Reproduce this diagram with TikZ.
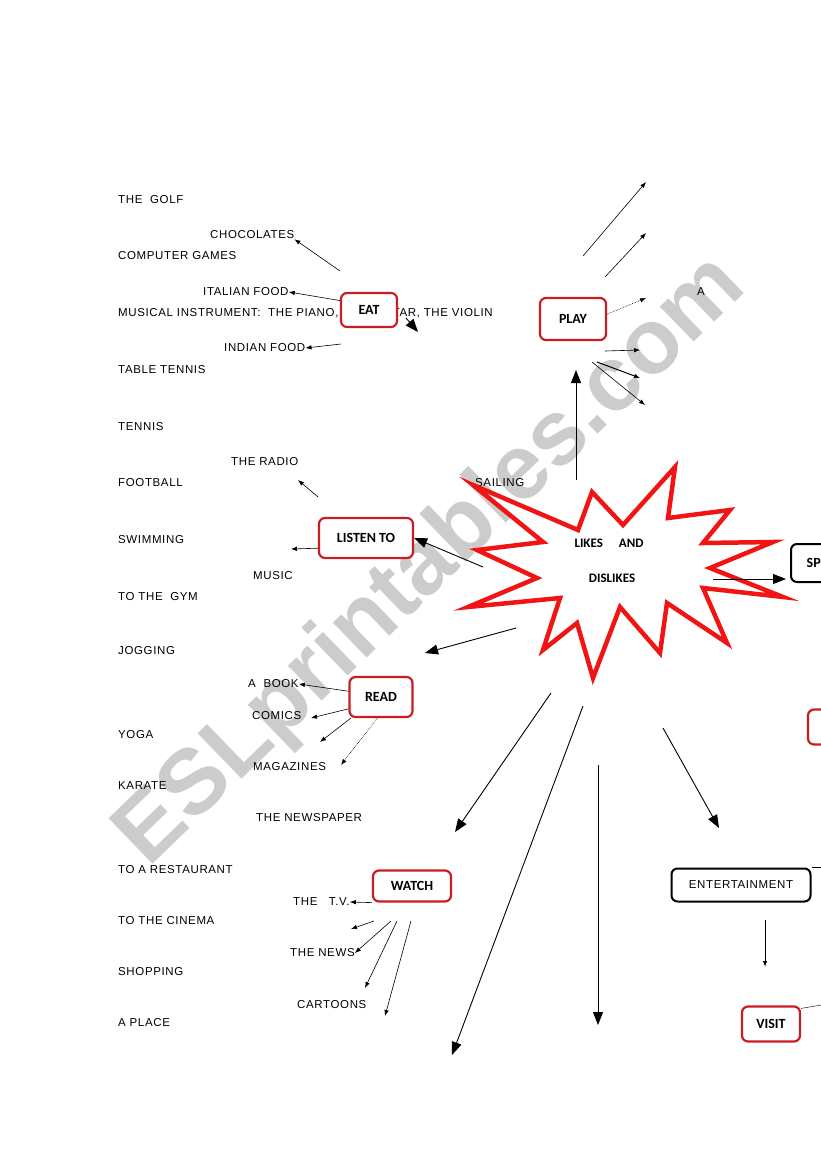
\documentclass[tikz,border=0pt]{standalone}
\usepackage{fontspec}
\setmainfont{Liberation Sans}
\newfontfamily\wordfont[LetterSpace=5.5]{Liberation Sans}
\newfontfamily\boxfont{Carlito}
\usetikzlibrary{arrows.meta}
\definecolor{boxred}{RGB}{200,30,35}
\definecolor{starred}{RGB}{240,20,20}

\begin{document}
\begin{tikzpicture}[
  x=1pt, y=-1pt,
  word/.style={anchor=west, inner sep=0pt, font=\wordfont\fontsize{11.5}{13}\selectfont},
  redbox/.style={draw=boxred, fill=white, line width=2.2pt, rounded corners=6pt,
    inner sep=0pt, font=\boxfont\bfseries\fontsize{14}{16}\selectfont},
  blackbox/.style={draw=black, fill=white, line width=2pt, rounded corners=6pt,
    inner sep=0pt},
  arr/.style={-{Latex[length=6pt,width=4.5pt]}, line width=0.6pt},
  bigarr/.style={-{Triangle[length=13pt,width=10pt]}, line width=0.9pt},
]

\useasboundingbox (0,0) rectangle (821,1169);
\clip (0,0) rectangle (821,1169);

% watermark
\node[rotate=44, text=gray!40, font=\bfseries\fontsize{92}{92}\selectfont]
  (mark) at (432,562) {ESLprintables.com};

% left column
\node[word] (golf) at (118,200) {THE \ GOLF};
\node[word] (games) at (118,256) {COMPUTER GAMES};
\node[word] (instrument) at (118,313) {MUSICAL INSTRUMENT: \ THE PIANO, THE GUITAR, THE VIOLIN};
\node[word] (tabletennis) at (118,370) {TABLE TENNIS};
\node[word] (tennis) at (118,427) {TENNIS};
\node[word] (football) at (118,483) {FOOTBALL};
\node[word] (swimming) at (118,540) {SWIMMING};
\node[word] (gym) at (118,597) {TO THE \ GYM};
\node[word] (jogging) at (118,651) {JOGGING};
\node[word] (yoga) at (118,735) {YOGA};
\node[word] (karate) at (118,786) {KARATE};
\node[word] (restaurant) at (118,870) {TO A RESTAURANT};
\node[word] (cinema) at (118,921) {TO THE CINEMA};
\node[word] (shopping) at (118,972) {SHOPPING};
\node[word] (place) at (118,1023) {A PLACE};

% words of the verbs
\node[word] (choc) at (210,235) {CHOCOLATES};
\node[word] (italian) at (203,292) {ITALIAN FOOD};
\node[word] (indian) at (224,348) {INDIAN FOOD};
\node[word] (radio) at (231,462) {THE RADIO};
\node[word] (sailing) at (475,483) {SAILING};
\node[word] (music) at (253,576) {MUSIC};
\node[word] (book) at (248,684) {A \ BOOK};
\node[word] (comics) at (252,716) {COMICS};
\node[word] (magazines) at (253,767) {MAGAZINES};
\node[word] (newspaper) at (256,818) {THE NEWSPAPER};
\node[word] (tv) at (293,902) {THE \ \ T.V.};
\node[word] (news) at (290,953) {THE NEWS};
\node[word] (cartoons) at (297,1005) {CARTOONS};
\node[word] (a) at (697,292) {A};

% star
\draw[starred, line width=4.5pt, fill=white]
  (473,485) -- (578,530) -- (592,492) -- (623,525) -- (675,467) -- (668,518)
  -- (730,510) -- (703,543) -- (773,542) -- (710,568) -- (783,597) -- (703,588)
  -- (727,643) -- (667,603) -- (660,653) -- (620,607) -- (593,678) -- (577,623)
  -- (543,650) -- (560,598) -- (468,607) -- (537,578) -- (477,550) -- (543,542)
  -- cycle;
\node[font=\boxfont\bfseries\fontsize{13}{15}\selectfont] (likes) at (609,543) {LIKES \quad AND};
\node[font=\boxfont\bfseries\fontsize{13}{15}\selectfont] (dislikes) at (612,578) {DISLIKES};

% boxes
\node[redbox, minimum width=56pt, minimum height=34pt] (eat) at (369,310) {EAT};
\node[redbox, minimum width=66pt, minimum height=42pt] (play) at (573,319) {PLAY};
\node[redbox, minimum width=94pt, minimum height=40pt] (listen) at (366,538) {LISTEN TO};
\node[redbox, minimum width=63pt, minimum height=40pt] (read) at (381,697) {READ};
\node[redbox, minimum width=78pt, minimum height=31pt] (watch) at (412,886) {WATCH};
\node[redbox, minimum width=58pt, minimum height=35pt] (visit) at (771,1024) {VISIT};
\node[redbox, minimum width=60pt, minimum height=35pt] (go) at (838,727) {};
\node[blackbox, minimum width=76pt, minimum height=38pt,
  font=\boxfont\bfseries\fontsize{14}{16}\selectfont] (sports) at (829,563) {SPORTS};
\node[blackbox, minimum width=139pt, minimum height=33pt,
  font=\wordfont\fontsize{11.5}{13}\selectfont] (ent) at (741,885) {ENTERTAINMENT};

% free ends
\coordinate (e1) at (340,271);
\coordinate (e2) at (341,344);
\coordinate (e3) at (406,318);
\coordinate (e4) at (418,332);
\coordinate (p1) at (583,256);
\coordinate (p2) at (646,182);
\coordinate (p3) at (605,277);
\coordinate (p4) at (646,233);
\coordinate (p5) at (646,298);
\coordinate (p6) at (605,351);
\coordinate (p7) at (640,350);
\coordinate (p8) at (597,362);
\coordinate (p9) at (640,378);
\coordinate (p10) at (592,362);
\coordinate (p11) at (645,405);
\coordinate (p12) at (576,480);
\coordinate (p13) at (576,370);
\coordinate (l1) at (291,549);
\coordinate (l2) at (318,497);
\coordinate (l3) at (298,480);
\coordinate (l4) at (483,567);
\coordinate (r0) at (516,628);
\coordinate (r1) at (425,653);
\coordinate (r2) at (311,718);
\coordinate (r3) at (320,742);
\coordinate (r4) at (341,765);
\coordinate (w0) at (551,693);
\coordinate (w1) at (455,832);
\coordinate (w2) at (351,929);
\coordinate (w3) at (365,988);
\coordinate (w4) at (385,1016);
\coordinate (w5) at (374,921);
\coordinate (w6) at (391,921);
\coordinate (w7) at (397,921);
\coordinate (w8) at (411,921);
\coordinate (f1) at (583,706);
\coordinate (f2) at (452,1055);
\coordinate (f3) at (598,765);
\coordinate (f4) at (598,1025);
\coordinate (f5) at (663,728);
\coordinate (f6) at (719,828);
\coordinate (s0) at (713,579);
\coordinate (v0) at (765,920);
\coordinate (v1) at (765,967);

% eat
\draw[arr] (e1) -- (choc.south east);
\draw[arr] (eat.162) -- (italian.east);
\draw[arr] (e2) -- (indian.east);
\draw[bigarr] (e3) -- (e4);

% play
\draw[arr] (p1) -- (p2);
\draw[arr] (p3) -- (p4);
\draw[arr, densely dotted] (play.8) -- (p5);
\draw[arr] (p6) -- (p7);
\draw[arr, line width=1pt] (p8) -- (p9);
\draw[arr] (p10) -- (p11);
\draw[bigarr] (p12) -- (p13);

% listen to
\draw[arr] (listen.192) -- (l1);
\draw[arr] (l2) -- (l3);
\draw[bigarr] (l4) -- (listen.east);

% read
\draw[bigarr] (r0) -- (r1);
\draw[arr] (read.170) -- (book.east);
\draw[arr] (read.200) -- (r2);
\draw[arr] (read.215) -- (r3);
\draw[arr, densely dotted] (read.260) -- (r4);

% watch
\draw[bigarr] (w0) -- (w1);
\draw[arr] (watch.south west) -- (tv.east);
\draw[arr] (w5) -- (w2);
\draw[arr] (w6) -- (news.east);
\draw[arr] (w7) -- (w3);
\draw[arr] (w8) -- (w4);

% the other branches
\draw[bigarr] (f1) -- (f2);
\draw[bigarr] (f3) -- (f4);
\draw[bigarr] (f5) -- (f6);
\draw[bigarr, shorten >=4pt] (s0) -- (s0 -| sports.west);
\draw[arr, line width=1pt] (v0) -- (v1);
\draw (ent.north east) -- ++(30,0);
\draw (visit.north east) ++(0,3) -- ++(30,-5);

\end{tikzpicture}
\end{document}
